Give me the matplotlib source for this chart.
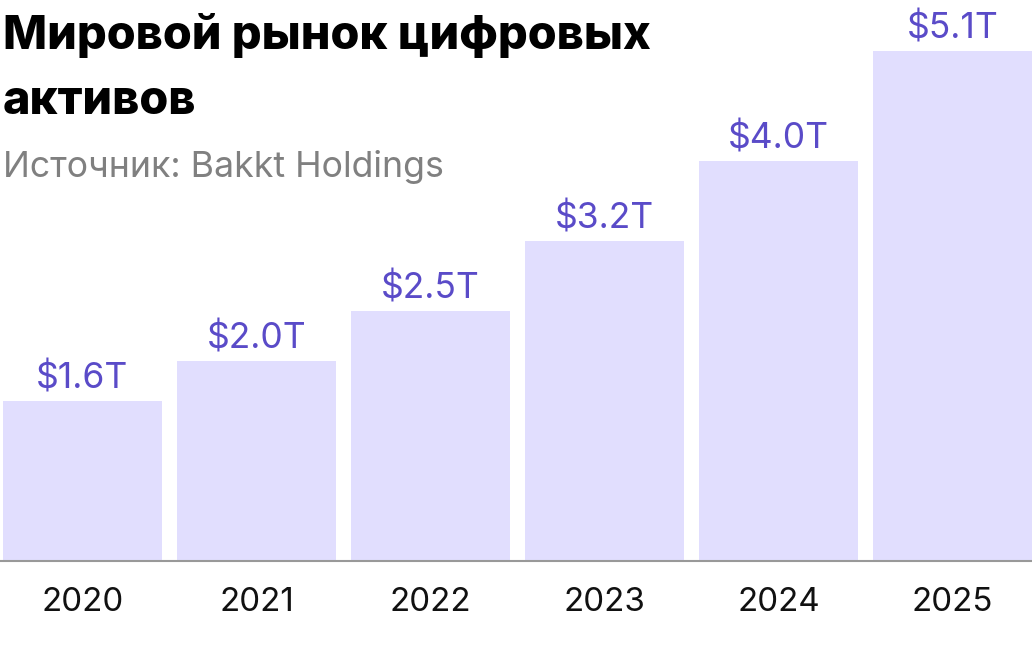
import matplotlib.pyplot as plt

years = ["2020", "2021", "2022", "2023", "2024", "2025"]
values = [1.6, 2.0, 2.5, 3.2, 4.0, 5.1]
labels = ["$1.6T", "$2.0T", "$2.5T", "$3.2T", "$4.0T", "$5.1T"]

plt.rcParams['font.family'] = ['Inter', 'DejaVu Sans']

W, H = 1032, 655
fig = plt.figure(figsize=(W / 100, H / 100), dpi=100)

# axes: bottom at the baseline (y=561 px from top), top at image top
ax = fig.add_axes([0, (H - 561) / H, 1, 561 / H])
x = list(range(len(years)))
ax.bar(x, values, width=159 / 174, color="#E1DEFE")
ax.set_xlim(-82.5 / 174, (W - 82.5) / 174)
ax.set_ylim(0, 5.61)
for xi, v, lab in zip(x, values, labels):
    ax.annotate(lab, (xi, v), xytext=(0, 6), textcoords="offset pixels",
                ha="center", va="bottom", fontsize=25.5, color="#5A4BC8")
for s in ax.spines.values():
    s.set_visible(False)
ax.axhline(0, color="#999999", lw=1.5, clip_on=False)
ax.set_yticks([])
ax.set_xticks(x)
ax.set_xticklabels(years, fontsize=23.8, color="#111111")
ax.tick_params(axis="x", length=0, pad=19)

fig.text(3 / W, 1 - 49 / H, "Мировой рынок цифровых", fontsize=33.7,
         fontweight=800, color="#000000", va="baseline", ha="left")
fig.text(3 / W, 1 - 114 / H, "активов", fontsize=33.7,
         fontweight=800, color="#000000", va="baseline", ha="left")
fig.text(3 / W, 1 - 177 / H, "Источник: Bakkt Holdings", fontsize=25.7,
         color="#808080", va="baseline", ha="left")

fig.savefig("out.png", dpi=100)
